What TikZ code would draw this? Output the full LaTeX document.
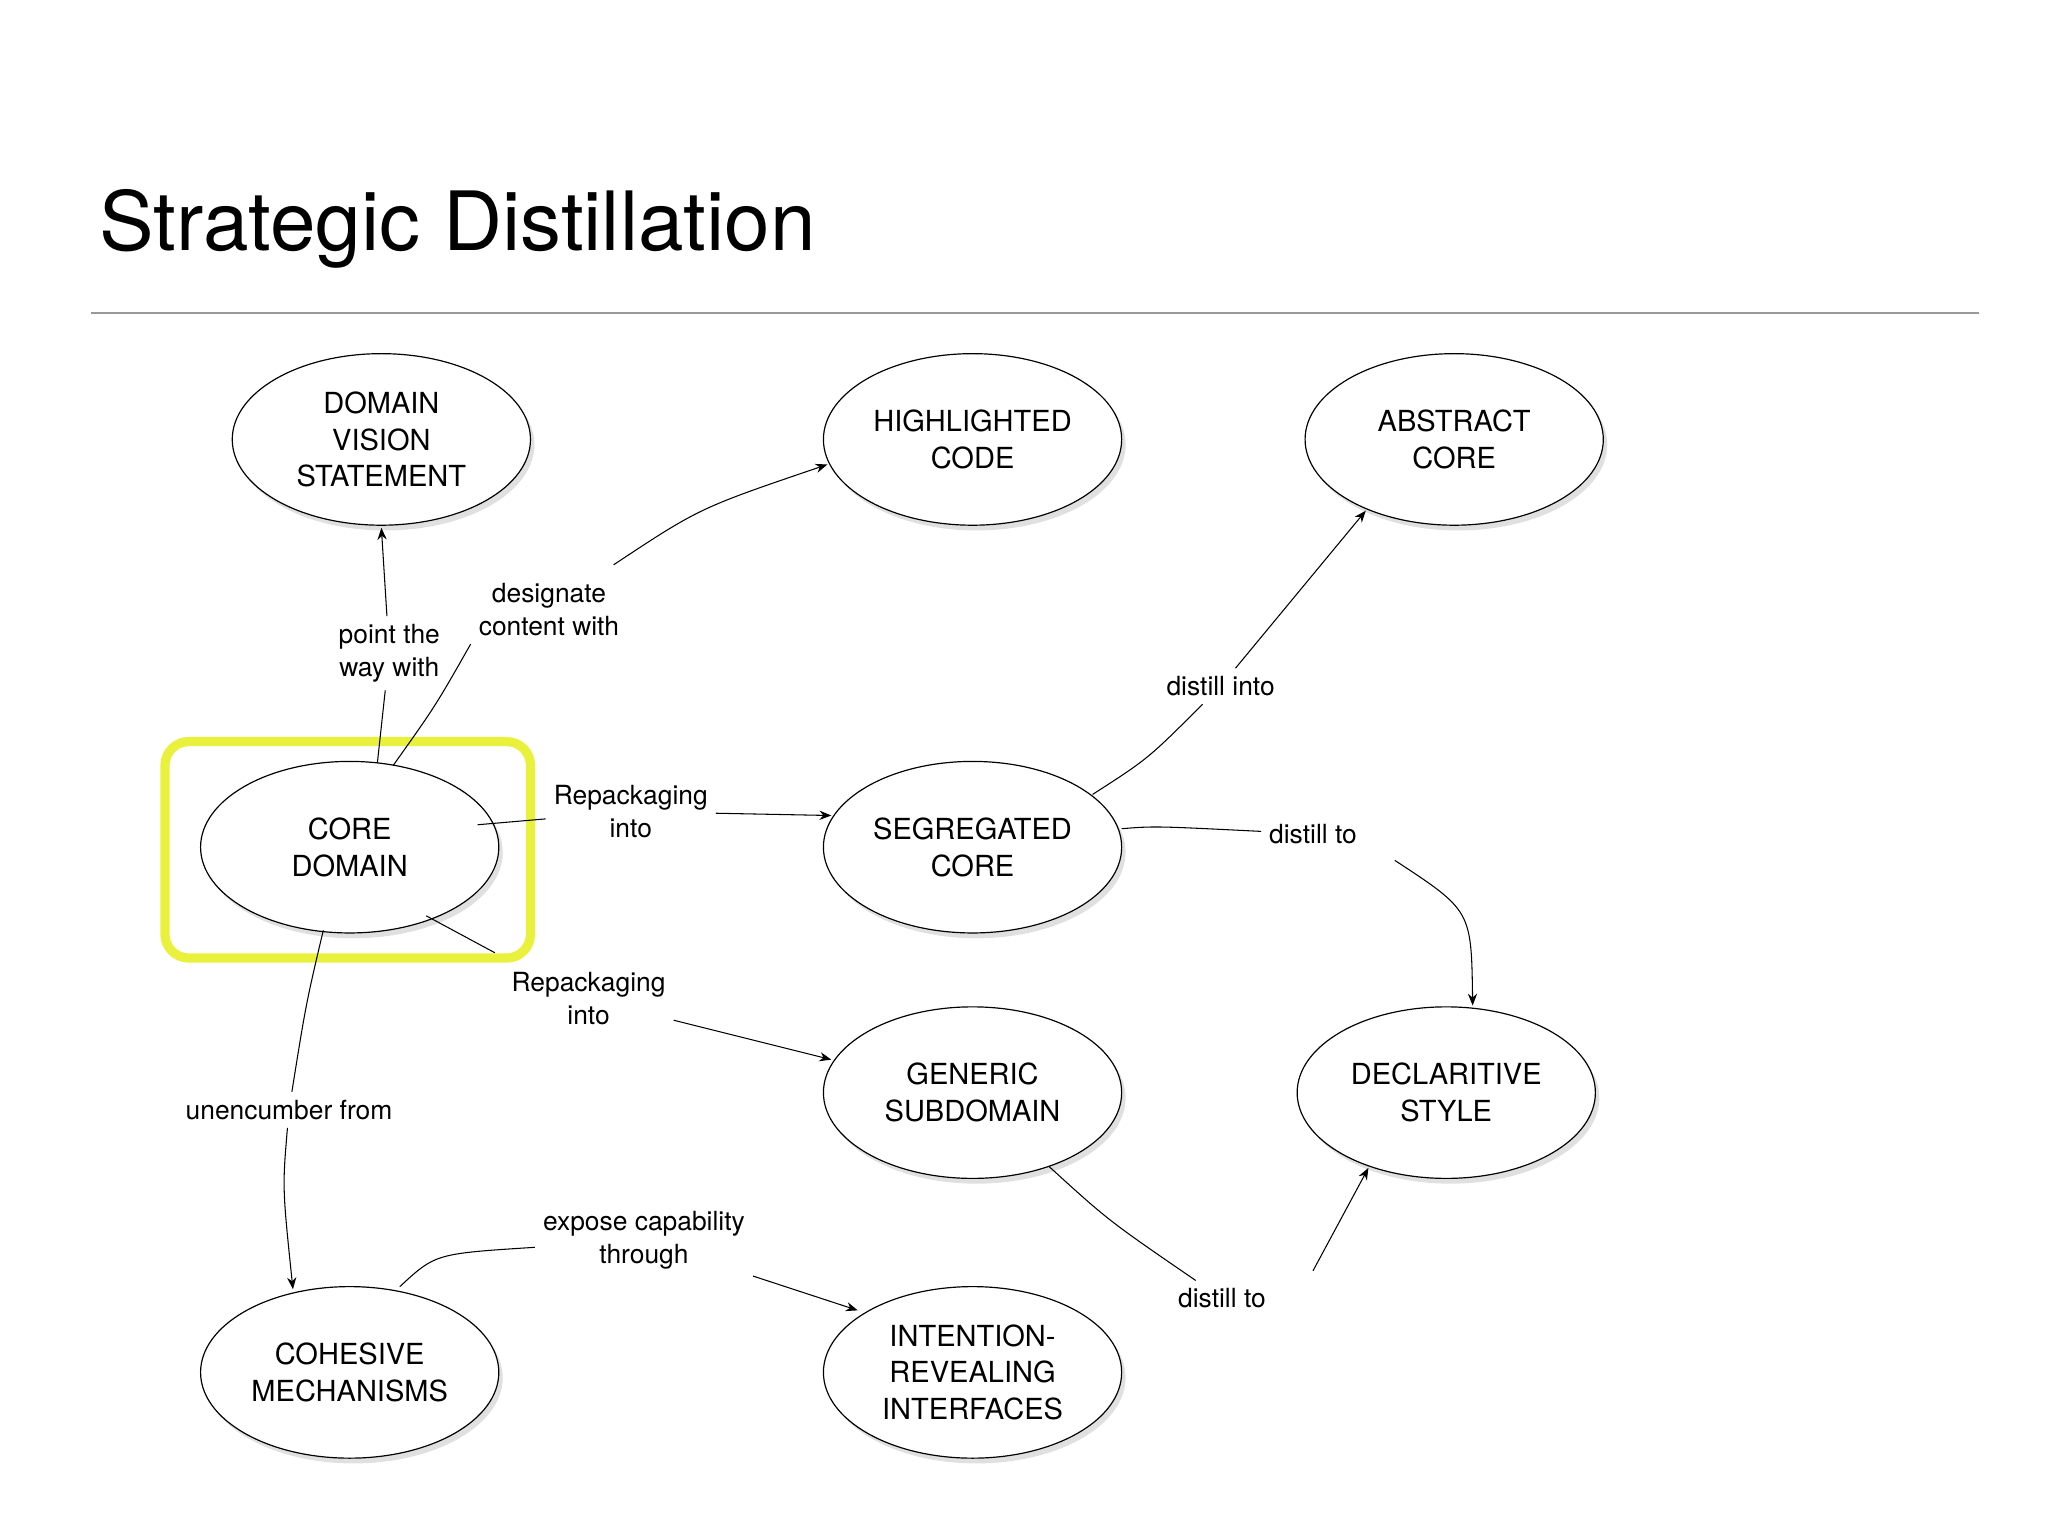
\documentclass[tikz,border=0pt]{standalone}
\usepackage{fontspec}
\setmainfont{TeX Gyre Heros}
\usetikzlibrary{arrows.meta,shapes.geometric}
\begin{document}
\begin{tikzpicture}[x=1pt,y=-1pt,
  ell/.style={draw,ellipse,minimum width=226pt,minimum height=130pt,align=center,font=\fontsize{22}{28}\selectfont,fill=white,line width=0.9pt},
  shd/.style={ellipse,minimum width=226pt,minimum height=130pt,fill=black!12},
  lab/.style={align=center,font=\fontsize{20}{25}\selectfont,inner sep=6pt},
  con/.style={line width=0.8pt},
  arr/.style={con,-{Stealth[length=9pt,width=7pt]}}]
\useasboundingbox (0,0) rectangle (1552,1164);
\node[anchor=base west,font=\fontsize{62}{70}\selectfont] (title) at (72,190) {Strategic Distillation};
\draw[black!40,line width=1.2pt] (69,237) -- (1500,237);
\foreach \x/\y in {289/333,737/333,1102/333,265/642,737/642,737/828,1096/828,265/1040,737/1040}
  \node[shd] at (\x+3,\y+4) {};
\node[ell] (dvs) at (289,333) {DOMAIN\\VISION\\STATEMENT};
\node[ell] (hc) at (737,333) {HIGHLIGHTED\\CODE};
\node[ell] (ac) at (1102,333) {ABSTRACT\\CORE};
\node[ell] (cd) at (265,642) {CORE\\DOMAIN};
\node[ell] (sc) at (737,642) {SEGREGATED\\CORE};
\node[ell] (gs) at (737,828) {GENERIC\\SUBDOMAIN};
\node[ell] (ds) at (1096,828) {DECLARITIVE\\STYLE};
\node[ell] (cm) at (265,1040) {COHESIVE\\MECHANISMS};
\node[ell] (iri) at (737,1040) {INTENTION-\\REVEALING\\INTERFACES};
\draw[line width=7pt,draw={rgb,255:red,232;green,240;blue,40},opacity=0.9,rounded corners=18pt] (125,562) rectangle (402,726);
\node[lab] (l1) at (295,495) {point the\\way with};
\node[lab] (l2) at (416,462) {designate\\content with};
\node[lab] (l3) at (478,615) {Repackaging\\into};
\node[lab] (l4) at (446,757) {Repackaging\\into};
\node[lab] (l5) at (219,841) {unencumber from};
\node[lab] (l6) at (488,940) {expose capability\\through};
\node[lab] (l7) at (925,520) {distill into};
\node[lab] (l8) at (995,632) {distill to};
\node[lab] (l9) at (926,984) {distill to};
\coordinate (c1) at (286,578);
\coordinate (c2) at (298,580);
\draw[con] (c1) -- (l1);
\draw[arr] (l1) -- (289,400);
\draw[con] (c2) .. controls (330,535) .. (l2.south west);
\draw[arr] (465,428) .. controls (530,385) .. (627,352);
\draw[con] (362,625) -- (l3);
\draw[arr] (l3) -- (630,618);
\draw[con] (323,694) -- (375,722);
\draw[arr] (l4) -- (630,803);
\draw[con] (245,705) .. controls (232,760) .. (l5);
\draw[arr] (l5) .. controls (214,900) .. (222,977);
\draw[con] (303,975) .. controls (330,950) .. (l6);
\draw[arr] (l6) -- (650,993);
\draw[con] (828,602) .. controls (870,575) .. (l7);
\draw[arr] (l7) -- (1035,387);
\draw[con] (850,628) .. controls (875,626) .. (l8);
\draw[arr] (1057,652) .. controls (1115,690) .. (1116,762);
\draw[con] (795,884) .. controls (840,925) .. (l9);
\draw[arr] (995,963) -- (1037,885);
\end{tikzpicture}
\end{document}
